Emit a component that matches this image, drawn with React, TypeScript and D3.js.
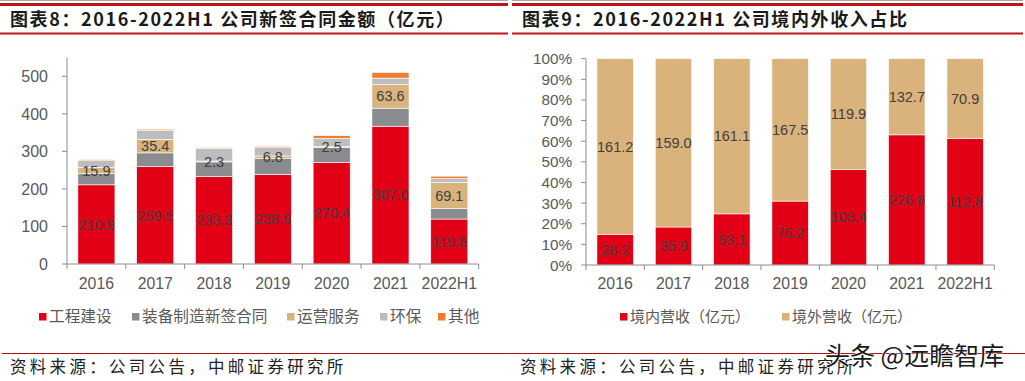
import React from "react";
import * as d3 from "d3";

const categories = ["2016", "2017", "2018", "2019", "2020", "2021", "2022H1"];
const engineering = [210.9, 259.5, 233.3, 238.9, 270.4, 367.0, 119.8];
const equipment = [30.5, 36.5, 38.6, 42.0, 40.0, 48.0, 28.0];
const operation = [15.9, 35.4, 2.3, 6.8, 2.5, 63.6, 69.1];
const envProtect = [18.0, 25.0, 34.0, 22.5, 21.5, 16.5, 11.0];
const others = [2.5, 2.7, 1.7, 3.0, 7.5, 15.0, 6.0];
const leftTicks = [0, 100, 200, 300, 400, 500];

const domestic = [28.2, 35.9, 53.1, 75.2, 103.4, 226.8, 112.8];
const overseas = [161.2, 159.0, 161.1, 167.5, 119.9, 132.7, 70.9];
const rightTicks = [0, 0.1, 0.2, 0.3, 0.4, 0.5, 0.6, 0.7, 0.8, 0.9, 1.0];

const leftSeries = [
  { key: "eng", name: "工程建设", values: engineering, color: "#E10016", label: true },
  { key: "equip", name: "装备制造新签合同", values: equipment, color: "#898B8E", label: false },
  { key: "oper", name: "运营服务", values: operation, color: "#D9B27C", label: true },
  { key: "env", name: "环保", values: envProtect, color: "#BDBDBD", label: false },
  { key: "oth", name: "其他", values: others, color: "#ED7D31", label: false },
];
const rightSeries = [
  { key: "dom", name: "境内营收（亿元）", values: domestic, color: "#E10016" },
  { key: "ovs", name: "境外营收（亿元）", values: overseas, color: "#D9B27C" },
];

const NUM_FONT = "'Liberation Sans', Arial, sans-serif";
const CJK_FONT = "'Noto Sans CJK SC', 'Noto Sans', sans-serif";
const AXIS = "#8C8C8C";
const TICK_TXT = "#595959";
const LBL = "#404040";

function LeftChart() {
  const x = d3.scaleBand<string>().domain(categories).range([67, 478.7]).paddingInner(0.37).paddingOuter(0.185);
  const y = d3.scaleLinear().domain([0, 550]).range([264, 57.5]);
  const rows = categories.map((c, i) => {
    const r: any = { cat: c };
    leftSeries.forEach((s) => (r[s.key] = s.values[i]));
    return r;
  });
  const stacked = d3.stack<any>().keys(leftSeries.map((s) => s.key))(rows);
  const step = x.step();
  return (
    <g>
      {stacked.map((layer, li) => (
        <g key={layer.key}>
          {layer.map((d, i) => (
            <rect
              key={i}
              x={x(categories[i])!}
              y={y(d[1])}
              width={x.bandwidth()}
              height={Math.max(0, y(d[0]) - y(d[1]))}
              fill={leftSeries[li].color}
              stroke="#ffffff"
              strokeWidth={0.6}
            />
          ))}
        </g>
      ))}
      {stacked.map((layer, li) =>
        leftSeries[li].label
          ? layer.map((d, i) => (
              <text
                key={layer.key + i}
                x={x(categories[i])! + x.bandwidth() / 2}
                y={(y(d[0]) + y(d[1])) / 2}
                dy="0.36em"
                textAnchor="middle"
                fontFamily={NUM_FONT}
                fontSize={14.5}
                fill={LBL}
              >
                {leftSeries[li].values[i].toFixed(1)}
              </text>
            ))
          : null
      )}
      <line x1={67} x2={67} y1={57.5} y2={264} stroke={AXIS} strokeWidth={1} />
      {leftTicks.map((t) => (
        <g key={t}>
          <line x1={62} x2={67} y1={y(t)} y2={y(t)} stroke={AXIS} />
          <text x={48} y={y(t)} dy="0.36em" textAnchor="end" fontFamily={NUM_FONT} fontSize={16} fill={TICK_TXT}>
            {t}
          </text>
        </g>
      ))}
      <line x1={67} x2={478.7} y1={264} y2={264} stroke={AXIS} />
      {d3.range(categories.length + 1).map((i) => (
        <line key={i} x1={67 + i * step} x2={67 + i * step} y1={264} y2={269} stroke={AXIS} />
      ))}
      {categories.map((c) => (
        <text key={c} x={x(c)! + x.bandwidth() / 2} y={283.5} dy="0.36em" textAnchor="middle" fontFamily={NUM_FONT} fontSize={15.8} fill={TICK_TXT}>
          {c}
        </text>
      ))}
      {(() => {
        const pos = [39, 132, 287, 380, 438];
        return leftSeries.map((s, i) => (
          <g key={s.key}>
            <rect x={pos[i]} y={313} width={7.5} height={7.5} fill={s.color} />
            <text x={pos[i] + 10} y={316.8} dy="0.36em" fontFamily={CJK_FONT} fontSize={15.7} fill={TICK_TXT}>
              {s.name}
            </text>
          </g>
        ));
      })()}
    </g>
  );
}

function RightChart() {
  const x = d3.scaleBand<string>().domain(categories).range([586, 994.3]).paddingInner(0.375).paddingOuter(0.1875);
  const y = d3.scaleLinear().domain([0, 1]).range([265, 58.7]);
  const rows = categories.map((c, i) => {
    const tot = domestic[i] + overseas[i];
    return { cat: c, dom: domestic[i] / tot, ovs: overseas[i] / tot };
  });
  const stacked = d3.stack<any>().keys(["dom", "ovs"])(rows);
  const step = x.step();
  const fmt = d3.format(".0%");
  return (
    <g>
      {stacked.map((layer, li) => (
        <g key={layer.key}>
          {layer.map((d, i) => (
            <rect
              key={i}
              x={x(categories[i])!}
              y={y(d[1])}
              width={x.bandwidth()}
              height={y(d[0]) - y(d[1])}
              fill={rightSeries[li].color}
              stroke="#ffffff"
              strokeWidth={0.6}
            />
          ))}
        </g>
      ))}
      {stacked.map((layer, li) =>
        layer.map((d, i) => (
          <text
            key={layer.key + i}
            x={x(categories[i])! + x.bandwidth() / 2}
            y={(y(d[0]) + y(d[1])) / 2}
            dy="0.36em"
            textAnchor="middle"
            fontFamily={NUM_FONT}
            fontSize={14.5}
            fill={LBL}
          >
            {rightSeries[li].values[i].toFixed(1)}
          </text>
        ))
      )}
      <line x1={586} x2={586} y1={58.7} y2={265} stroke={AXIS} />
      {rightTicks.map((t) => (
        <g key={t}>
          <line x1={581} x2={586} y1={y(t)} y2={y(t)} stroke={AXIS} />
          <text x={572} y={y(t)} dy="0.36em" textAnchor="end" fontFamily={NUM_FONT} fontSize={15.3} fill={TICK_TXT}>
            {fmt(t)}
          </text>
        </g>
      ))}
      <line x1={586} x2={994.3} y1={265} y2={265} stroke={AXIS} />
      {d3.range(categories.length + 1).map((i) => (
        <line key={i} x1={586 + i * step} x2={586 + i * step} y1={265} y2={270} stroke={AXIS} />
      ))}
      {categories.map((c) => (
        <text key={c} x={x(c)! + x.bandwidth() / 2} y={283.5} dy="0.36em" textAnchor="middle" fontFamily={NUM_FONT} fontSize={15.8} fill={TICK_TXT}>
          {c}
        </text>
      ))}
      {(() => {
        const pos = [620, 782];
        return rightSeries.map((s, i) => (
          <g key={s.key}>
            <rect x={pos[i]} y={313} width={7.5} height={7.5} fill={s.color} />
            <text x={pos[i] + 10} y={316.8} dy="0.36em" fontFamily={CJK_FONT} fontSize={15} fill={TICK_TXT}>
              {s.name}
            </text>
          </g>
        ));
      })()}
    </g>
  );
}

function Header({ x0, x1, text }: { x0: number; x1: number; text: string }) {
  return (
    <g>
      <line x1={x0} x2={x1} y1={0.5} y2={0.5} stroke="#A6A6A6" strokeWidth={1} />
      <line x1={x0} x2={x1} y1={4.5} y2={4.5} stroke="#C0141B" strokeWidth={3} />
      <text x={x0 + 10} y={20} dy="0.36em" fontFamily={CJK_FONT} fontWeight={700} fontSize={18} letterSpacing={1.6} fill="#1a1a1a">
        {text}
      </text>
      <line x1={x0} x2={x1} y1={33.5} y2={33.5} stroke="#C0141B" strokeWidth={2} />
    </g>
  );
}

export default function App() {
  return (
    <svg width={1025} height={381} style={{ position: "absolute", left: 0, top: 0, background: "#fff" }}>
      <rect width={1025} height={381} fill="#ffffff" />
      <Header x0={0} x1={508} text="图表8：2016-2022H1 公司新签合同金额（亿元）" />
      <Header x0={512} x1={1023} text="图表9：2016-2022H1 公司境内外收入占比" />
      <LeftChart />
      <RightChart />
      <line x1={2} x2={1025} y1={353.5} y2={353.5} stroke="#B01010" strokeWidth={1} />
      <text x={10} y={367} dy="0.36em" fontFamily={CJK_FONT} fontSize={16.5} letterSpacing={3.3} fill="#222">
        资料来源：公司公告，中邮证券研究所
      </text>
      <text x={520} y={367} dy="0.36em" fontFamily={CJK_FONT} fontSize={16.5} letterSpacing={3.3} fill="#222">
        资料来源：公司公告，中邮证券研究所
      </text>
      <text x={825} y={356} dy="0.36em" fontFamily={CJK_FONT} fontSize={25} fill="#1a1a1a" stroke="#ffffff" strokeWidth={1.2} paintOrder="stroke">
        头条 @远瞻智库
      </text>
    </svg>
  );
}
